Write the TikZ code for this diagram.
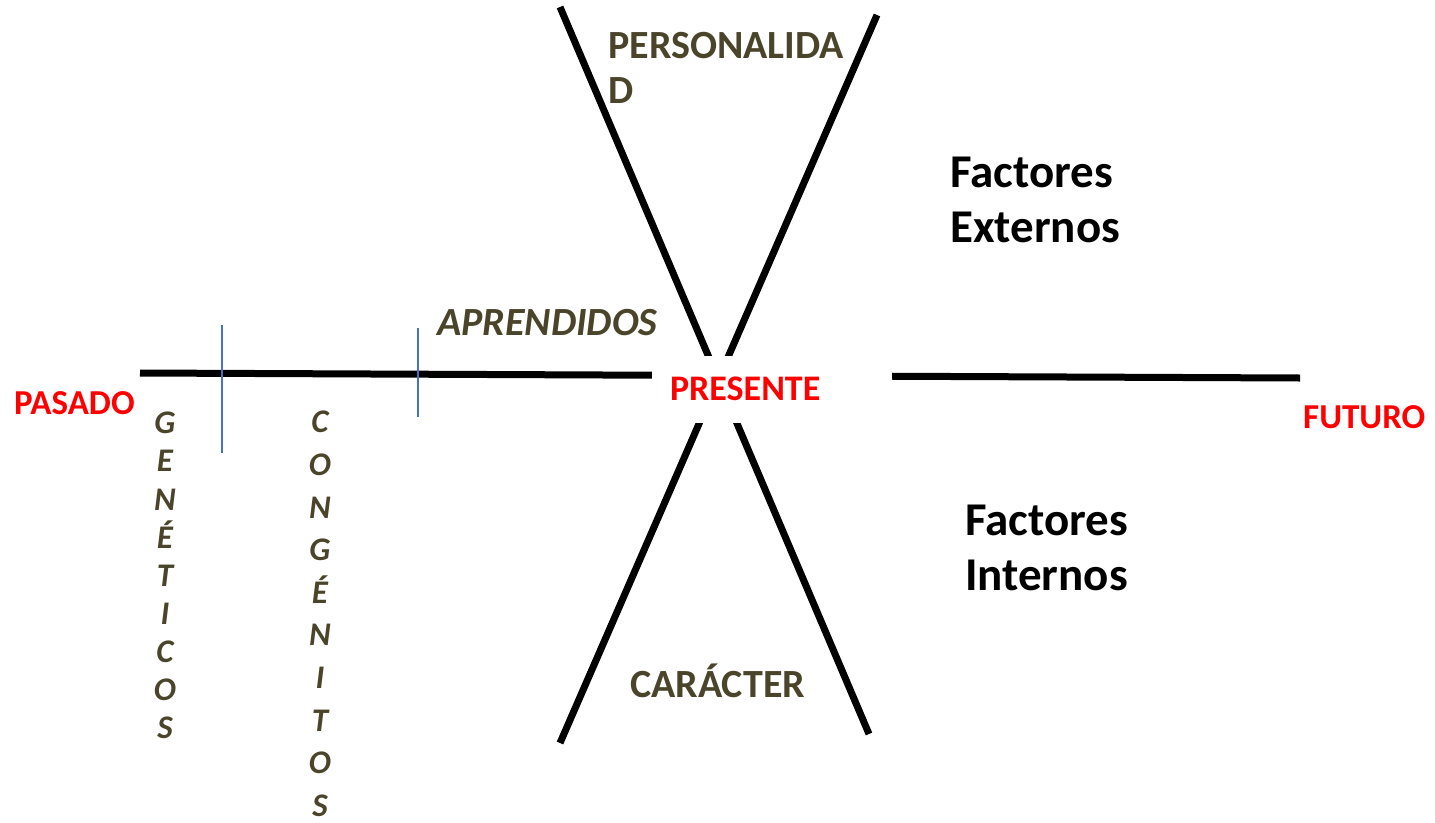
\documentclass[tikz,border=0pt]{standalone}
\usepackage{fontspec}
\setmainfont{Carlito}
\usetikzlibrary{positioning}
\definecolor{traitolive}{RGB}{74,69,42}
\definecolor{timered}{RGB}{255,0,0}
\definecolor{tickblue}{RGB}{68,114,196}

\begin{document}
\begin{tikzpicture}[
        x=1pt, y=-1pt,
        axis/.style={draw=black, line width=7pt},
        tick/.style={draw=tickblue, line width=1.5pt},
        trait/.style={inner sep=0pt, align=left, text=traitolive, font=\fontsize{40}{45}\selectfont\bfseries},
        factor/.style={inner sep=0pt, anchor=north west, align=left, text=black, font=\fontsize{47}{55}\selectfont\bfseries},
        timept/.style={inner sep=0pt, anchor=base west, text=timered, font=\fontsize{35}{40}\selectfont\bfseries},
        spelled/.style={inner sep=0pt, anchor=north, align=center, text=traitolive}
    ]
        \useasboundingbox (0,0) rectangle (1435,822);
        % ends of the lines
        \coordinate (pastend) at (140,373);
        \coordinate (futend) at (1300,378);
        \coordinate (topl) at (560,7);
        \coordinate (topr) at (877,15);
        \coordinate (botl) at (560,743);
        \coordinate (botr) at (869,734);
        \draw[axis] (topl) -- (botr);
        \draw[axis] (topr) -- (botl);
        \draw[axis] (pastend) -- (futend);
        % marks on the past side
        \coordinate (gentop) at (222,325);
        \coordinate (genbot) at (222,453);
        \coordinate (contop) at (418,328);
        \coordinate (conbot) at (418,417);
        \draw[tick] (gentop) -- (genbot);
        \draw[tick] (contop) -- (conbot);

        \node[fill=white, inner xsep=18pt, inner ysep=0pt, text width=204pt, minimum height=67pt, align=left,
            text=timered, font=\fontsize{36}{40}\selectfont\bfseries] (presente) at (772,389) {PRESENTE};
        \node[timept] (pasado) at (14,414) {PASADO};
        \node[timept] (futuro) at (1303,428) {FUTURO};

        \node[trait, anchor=north west] (personalidad) at (608,32) {PERSONALIDA\\D};
        \node[trait, anchor=base west] (caracter) at (630,697) {CARÁCTER};
        \node[trait, anchor=base west, font=\fontsize{40}{45}\selectfont\bfseries\itshape] (aprendidos) at (437,335) {APRENDIDOS};

        \node[factor] (externos) at (950,157) {Factores\\Externos};
        \node[factor] (internos) at (965,505) {Factores\\Internos};

        \node[spelled, font=\fontsize{33}{38.1}\selectfont\bfseries\itshape] (geneticos) at (165,412)
            {G\\E\\N\\É\\T\\I\\C\\O\\S};
        \node[spelled, font=\fontsize{33}{42.6}\selectfont\bfseries\itshape] (congenitos) at (320,411)
            {C\\O\\N\\G\\É\\N\\I\\T\\O\\S};
    \end{tikzpicture}
\end{document}
